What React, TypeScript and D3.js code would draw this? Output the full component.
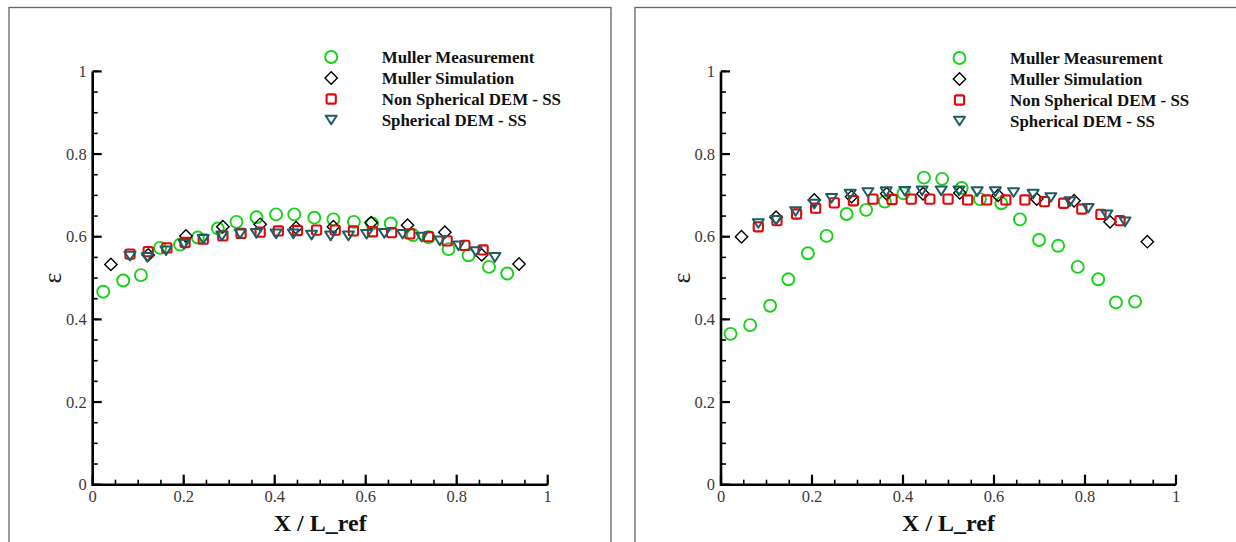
import React from "react";
import * as d3 from "d3";

// ---- Data ----
const legendLabels = ["Muller Measurement", "Muller Simulation", "Non Spherical DEM - SS", "Spherical DEM - SS"];
const xTicks = [0, 0.2, 0.4, 0.6, 0.8, 1];
const yTicks = [0, 0.2, 0.4, 0.6, 0.8, 1];
const tickLabels = ["0", "0.2", "0.4", "0.6", "0.8", "1"];

// Left panel
const leftMeasX = [0.023, 0.067, 0.106, 0.148, 0.192, 0.231, 0.275, 0.316, 0.360, 0.403, 0.443, 0.487, 0.529, 0.574, 0.614, 0.655, 0.704, 0.738, 0.782, 0.826, 0.871, 0.911];
const leftMeasY = [0.467, 0.494, 0.507, 0.573, 0.581, 0.598, 0.620, 0.636, 0.647, 0.654, 0.654, 0.646, 0.642, 0.636, 0.632, 0.632, 0.604, 0.599, 0.570, 0.555, 0.527, 0.511];
const leftSimX = [0.040, 0.122, 0.205, 0.286, 0.368, 0.447, 0.529, 0.612, 0.692, 0.774, 0.855, 0.937];
const leftSimY = [0.533, 0.556, 0.602, 0.624, 0.630, 0.622, 0.624, 0.634, 0.628, 0.611, 0.556, 0.534];
const leftNonSphX = [0.082, 0.122, 0.163, 0.203, 0.243, 0.286, 0.326, 0.368, 0.408, 0.450, 0.492, 0.533, 0.573, 0.615, 0.657, 0.697, 0.738, 0.779, 0.818, 0.858];
const leftNonSphY = [0.558, 0.564, 0.573, 0.586, 0.594, 0.602, 0.608, 0.611, 0.614, 0.615, 0.616, 0.616, 0.614, 0.612, 0.610, 0.607, 0.600, 0.590, 0.579, 0.568];
const leftSphX = [0.082, 0.120, 0.161, 0.201, 0.243, 0.284, 0.324, 0.360, 0.403, 0.441, 0.481, 0.523, 0.562, 0.602, 0.641, 0.681, 0.723, 0.763, 0.804, 0.842, 0.884];
const leftSphY = [0.553, 0.550, 0.566, 0.582, 0.594, 0.602, 0.607, 0.608, 0.607, 0.607, 0.604, 0.602, 0.602, 0.606, 0.608, 0.606, 0.599, 0.590, 0.578, 0.564, 0.550];

// Right panel
const rightMeasX = [0.021, 0.064, 0.108, 0.148, 0.191, 0.232, 0.276, 0.319, 0.360, 0.401, 0.446, 0.486, 0.529, 0.569, 0.616, 0.657, 0.699, 0.741, 0.784, 0.829, 0.868, 0.910];
const rightMeasY = [0.365, 0.386, 0.433, 0.497, 0.560, 0.602, 0.655, 0.665, 0.685, 0.705, 0.743, 0.740, 0.718, 0.691, 0.681, 0.642, 0.592, 0.578, 0.527, 0.497, 0.441, 0.443];
const rightSimX = [0.045, 0.121, 0.205, 0.287, 0.364, 0.444, 0.525, 0.609, 0.694, 0.776, 0.855, 0.937];
const rightSimY = [0.600, 0.647, 0.689, 0.697, 0.704, 0.704, 0.706, 0.700, 0.691, 0.687, 0.636, 0.588];
const rightNonSphX = [0.082, 0.123, 0.166, 0.208, 0.249, 0.291, 0.334, 0.376, 0.418, 0.459, 0.499, 0.542, 0.584, 0.626, 0.668, 0.711, 0.753, 0.793, 0.835, 0.877];
const rightNonSphY = [0.624, 0.639, 0.655, 0.669, 0.682, 0.687, 0.691, 0.690, 0.691, 0.691, 0.691, 0.689, 0.689, 0.689, 0.689, 0.685, 0.681, 0.667, 0.654, 0.639];
const rightSphX = [0.082, 0.121, 0.164, 0.205, 0.243, 0.284, 0.323, 0.363, 0.404, 0.442, 0.484, 0.523, 0.563, 0.603, 0.643, 0.686, 0.725, 0.767, 0.807, 0.848, 0.888];
const rightSphY = [0.632, 0.640, 0.661, 0.679, 0.693, 0.703, 0.707, 0.709, 0.710, 0.711, 0.711, 0.711, 0.709, 0.709, 0.707, 0.703, 0.695, 0.685, 0.669, 0.653, 0.636];

const GREEN = "#16d216";
const RED = "#e00808";
const TEAL = "#1d5e66";
const SERIF = "'Liberation Serif', 'Times New Roman', serif";

type Kind = "circle" | "diamond" | "square" | "tri";

function Marker({ kind, x, y }: { kind: Kind; x: number; y: number }) {
  if (kind === "circle")
    return <circle cx={x} cy={y} r={6} fill="none" stroke={GREEN} strokeWidth={1.9} />;
  if (kind === "diamond") {
    const r = 6.2;
    return <path d={`M${x},${y - r}L${x + r},${y}L${x},${y + r}L${x - r},${y}Z`} fill="none" stroke="#000" strokeWidth={1.4} />;
  }
  if (kind === "square")
    return <rect x={x - 4.6} y={y - 4.6} width={9.2} height={9.2} rx={1.6} fill="none" stroke={RED} strokeWidth={2.1} />;
  const w = 5.5, h = 8.6;
  return <path d={`M${x - w},${y - h / 2}L${x + w},${y - h / 2}L${x},${y + h / 2}Z`} fill="none" stroke={TEAL} strokeWidth={2} strokeLinejoin="round" />;
}

function Panel({ ox, series, legendDy }: { ox: number; series: { kind: Kind; xs: number[]; ys: number[] }[]; legendDy: number }) {
  const x = d3.scaleLinear().domain([0, 1]).range([ox, ox + 455]);
  const y = d3.scaleLinear().domain([0, 1]).range([484.7, 71.4]);
  const minor = d3.range(0, 1.0001, 0.05);
  const kinds: Kind[] = ["circle", "diamond", "square", "tri"];
  return (
    <g>
      {minor.map((v, i) => (
        <g key={"m" + i}>
          <line x1={x(v)} x2={x(v)} y1={y(0)} y2={y(0) - 5} stroke="#000" strokeWidth={1.6} />
          <line x1={x(0)} x2={x(0) + 5} y1={y(v)} y2={y(v)} stroke="#000" strokeWidth={1.6} />
        </g>
      ))}
      {xTicks.map((v, i) => (
        <g key={"xt" + i}>
          <line x1={x(v)} x2={x(v)} y1={y(0)} y2={y(0) - 10} stroke="#000" strokeWidth={2.2} />
          <text x={x(v)} y={502} textAnchor="middle" fontFamily={SERIF} fontSize={16.5} fill="#3a3a3a">{tickLabels[i]}</text>
        </g>
      ))}
      {yTicks.map((v, i) => (
        <g key={"yt" + i}>
          <line x1={x(0)} x2={x(0) + 9} y1={y(v)} y2={y(v)} stroke="#000" strokeWidth={2.2} />
          <text x={x(0) - 6} y={y(v) + 5.5} textAnchor="end" fontFamily={SERIF} fontSize={16.5} fill="#3a3a3a">{tickLabels[i]}</text>
        </g>
      ))}
      <path d={`M${x(0)},${y(1)}V${y(0)}H${x(1)}`} fill="none" stroke="#000" strokeWidth={2.6} />
      <text x={(x(0) + x(1)) / 2} y={531} textAnchor="middle" fontFamily={SERIF} fontWeight="bold" fontSize={24} fill="#111">X / L_ref</text>
      <text transform={`translate(${x(0) - 40},${278}) rotate(-90)`} textAnchor="middle" dominantBaseline="central" fontFamily={SERIF} fontSize={26} fill="#222">ε</text>
      {series.map((s, si) => (
        <g key={"s" + si}>
          {s.xs.map((xv, i) => (
            <Marker key={i} kind={s.kind} x={x(xv)} y={y(s.ys[i])} />
          ))}
        </g>
      ))}
      {legendLabels.map((lab, i) => (
        <g key={"lg" + i}>
          <Marker kind={kinds[i]} x={ox + 238.5} y={57 + legendDy + i * 21} />
          <text x={ox + 289} y={57 + legendDy + i * 21 + 5.5} fontFamily={SERIF} fontWeight="bold" fontSize={16.9} fill="#111">{lab}</text>
        </g>
      ))}
    </g>
  );
}

export default function App() {
  const leftSeries = [
    { kind: "circle" as Kind, xs: leftMeasX, ys: leftMeasY },
    { kind: "diamond" as Kind, xs: leftSimX, ys: leftSimY },
    { kind: "square" as Kind, xs: leftNonSphX, ys: leftNonSphY },
    { kind: "tri" as Kind, xs: leftSphX, ys: leftSphY },
  ];
  const rightSeries = [
    { kind: "circle" as Kind, xs: rightMeasX, ys: rightMeasY },
    { kind: "diamond" as Kind, xs: rightSimX, ys: rightSimY },
    { kind: "square" as Kind, xs: rightNonSphX, ys: rightNonSphY },
    { kind: "tri" as Kind, xs: rightSphX, ys: rightSphY },
  ];
  return (
    <svg width={1236} height={542} style={{ position: "absolute", left: 0, top: 0, background: "#fff" }}>
      <rect x={0} y={0} width={1236} height={542} fill="#fff" />
      <rect x={9} y={7.5} width={602} height={560} fill="none" stroke="#666" strokeWidth={1.3} />
      <rect x={635} y={7.5} width={620} height={560} fill="none" stroke="#666" strokeWidth={1.3} />
      <Panel ox={92.7} series={leftSeries} legendDy={0} />
      <Panel ox={721} series={rightSeries} legendDy={1} />
    </svg>
  );
}
